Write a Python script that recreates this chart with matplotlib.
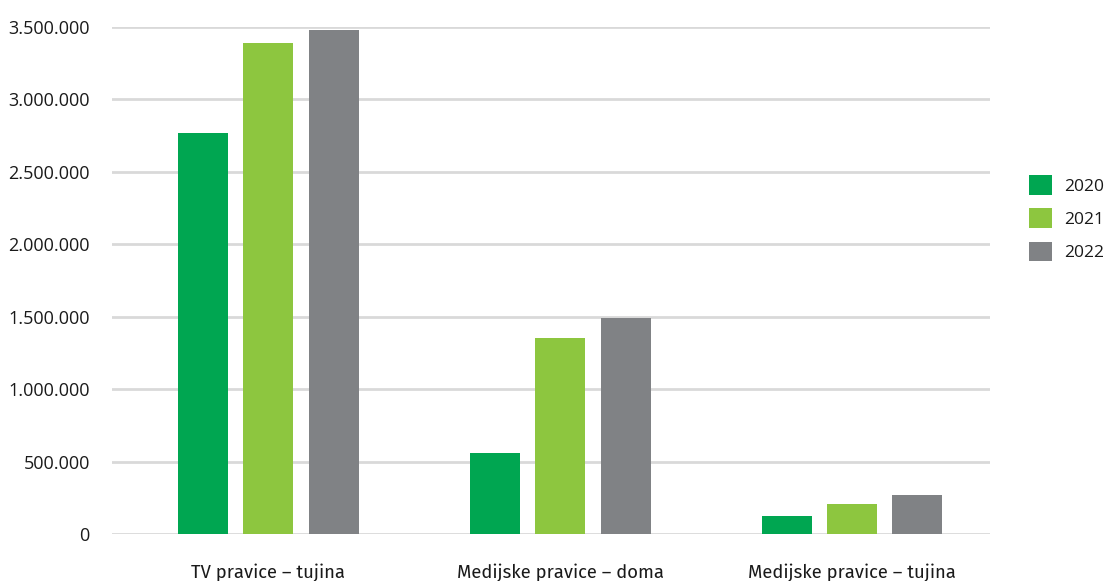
import numpy as np
import matplotlib
matplotlib.use("Agg")
import matplotlib.pyplot as plt
from matplotlib.ticker import FuncFormatter
from matplotlib.patches import Patch

categories = ["TV pravice – tujina", "Medijske pravice – doma", "Medijske pravice – tujina"]
years = ["2020", "2021", "2022"]
values_2020 = [2770000, 562000, 127000]
values_2021 = [3390000, 1351000, 210000]
values_2022 = [3482000, 1489000, 272000]
yticks = [0, 500000, 1000000, 1500000, 2000000, 2500000, 3000000, 3500000]

colors = ["#00A651", "#8DC63F", "#808285"]

plt.rcParams['font.family'] = ['Fira Sans', 'Open Sans', 'DejaVu Sans']
num_font = ['Open Sans', 'DejaVu Sans']

fig = plt.figure(figsize=(11.11, 5.81), dpi=100)
ax = fig.add_axes([112 / 1111, 1 - 534.3 / 581, (990 - 112) / 1111, (534.3 - 27) / 581])

x = np.arange(len(categories))
width = 0.171
step = 0.224
series = [values_2020, values_2021, values_2022]
for i, vals in enumerate(series):
    ax.bar(x + (i - 1) * step, vals, width, color=colors[i], zorder=3)

ax.set_xlim(-0.536, 2.473)
ax.set_ylim(0, 3500000)
ax.set_yticks(yticks)
ax.yaxis.set_major_formatter(FuncFormatter(lambda v, p: f"{int(v):,}".replace(",", ".")))
ax.grid(axis='y', color='#D9D9D9', linewidth=2, zorder=0)
ax.set_xticks(x)
ax.set_xticklabels(categories, fontsize=13.3, color='#1a1a1a')
ax.tick_params(axis='x', length=0, pad=21)
ax.tick_params(axis='y', length=0, pad=16, labelsize=13, labelcolor='#1a1a1a')
for lab in ax.get_yticklabels():
    lab.set_family(num_font)
for s in ax.spines.values():
    s.set_visible(False)

handles = [Patch(facecolor=c, edgecolor='none') for c in colors]
leg = ax.legend(handles, years, loc='center left', bbox_to_anchor=(1.036, 0.623),
                frameon=False, prop={'family': num_font, 'size': 12.5},
                handlelength=1.35, handleheight=1.35,
                handletextpad=0.7, labelspacing=0.8, borderaxespad=0)
for t in leg.get_texts():
    t.set_color('#1a1a1a')

fig.savefig("out.png", dpi=100)
